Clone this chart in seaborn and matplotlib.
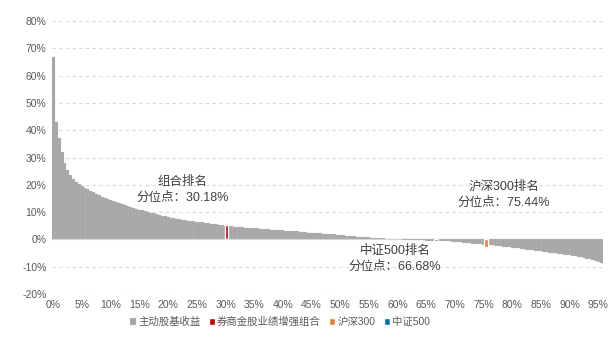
import numpy as np
import pandas as pd
import matplotlib
matplotlib.use('Agg')
import matplotlib.pyplot as plt
import seaborn as sns

# ---- data ----
STEP = 0.5
pct = np.arange(0, 96, STEP)          # percentile rank of fund (%)
ret = [
    67, 43, 37, 32, 28.0, 25.5, 23.5, 22.2, 21.2, 20.4,
    19.6, 19.0, 18.4, 17.9, 17.3, 16.8, 16.2, 15.7, 15.2, 14.8,
    14.4, 14.0, 13.6, 13.2, 12.9, 12.6, 12.2, 11.9, 11.5, 11.2,
    10.9, 10.6, 10.3, 10.0, 9.8, 9.5, 9.2, 9.0, 8.7, 8.5,
    8.2, 8.0, 7.8, 7.6, 7.4, 7.2, 7.0, 6.9, 6.7, 6.6,
    6.5, 6.4, 6.3, 6.1, 6.0, 5.8, 5.6, 5.5, 5.3, 5.2,
    5.0, 4.9, 4.8, 4.7, 4.6, 4.5, 4.4, 4.3, 4.2, 4.1,
    4.1, 4.0, 3.9, 3.8, 3.8, 3.7, 3.6, 3.5, 3.4, 3.3,
    3.3, 3.2, 3.1, 3.0, 2.9, 2.9, 2.8, 2.7, 2.6, 2.5,
    2.4, 2.4, 2.3, 2.2, 2.1, 2.0, 1.9, 1.8, 1.8, 1.7,
    1.6, 1.5, 1.4, 1.3, 1.2, 1.1, 1.0, 0.95, 0.9, 0.8,
    0.7, 0.6, 0.55, 0.5, 0.4, 0.35, 0.3, 0.2, 0.15, 0.1,
    0.05, 0.0, -0.05, -0.1, -0.15, -0.2, -0.2, -0.25, -0.3, -0.35,
    -0.4, -0.4, -0.45, -0.5, -0.55, -0.6, -0.65, -0.7, -0.75, -0.8,
    -0.9, -1.0, -1.1, -1.2, -1.3, -1.4, -1.5, -1.6, -1.7, -1.8,
    -1.9, -2.0, -2.1, -2.2, -2.3, -2.4, -2.5, -2.6, -2.7, -2.85,
    -3.0, -3.1, -3.25, -3.4, -3.55, -3.7, -3.85, -4.0, -4.1, -4.25,
    -4.4, -4.5, -4.65, -4.8, -4.95, -5.1, -5.25, -5.4, -5.55, -5.7,
    -5.85, -6.0, -6.2, -6.35, -6.55, -6.75, -7.0, -7.25, -7.55, -7.9,
    -8.3, -8.8,
]

mark_names = ['券商金股业绩增强组合', '沪深300', '中证500']
mark_pct = [30.18, 75.44, 66.68]
mark_ret = [5.4, -2.6, -0.6]
mark_colors = ['#C00000', '#ED7D31', '#0070C0']

ann_text = ['组合排名\n分位点：30.18%', '沪深300排名\n分位点：75.44%', '中证500排名\n分位点：66.68%']
ann_x = [22.5, 78.5, 59.5]
ann_y = [18.0, 16.5, -7.0]

yticks = list(range(-20, 81, 10))
xticks = list(range(0, 96, 5))

FAM = ['Liberation Sans', 'Noto Sans CJK SC', 'DejaVu Sans']

sns.set_style('white')
plt.rcParams['font.family'] = FAM
plt.rcParams['axes.unicode_minus'] = False

fig = plt.figure(figsize=(6.15, 3.51), dpi=100)
ax = fig.add_axes([0.0846, 0.1624, 0.8954, 0.7776])

df = pd.DataFrame({'pct': pct, 'ret': ret})
sns.barplot(data=df, x='pct', y='ret', native_scale=True, width=1.0,
            color='#A6A6A6', saturation=1, errorbar=None,
            edgecolor='#C4C4C4', linewidth=0.15, ax=ax, zorder=2,
            label='主动股基收益')
if ax.get_legend() is not None:
    ax.get_legend().remove()

for name, p, r, c in zip(mark_names, mark_pct, mark_ret, mark_colors):
    ax.bar(p, r, width=0.6, color=c, zorder=4, label=name)

for t, x, y in zip(ann_text, ann_x, ann_y):
    ax.text(x, y, t, ha='center', va='center', fontsize=9, color='#404040',
            linespacing=1.4, family=FAM, zorder=5)

ax.set_ylim(-20, 80)
ax.set_xlim(-0.25, 95.75)
ax.set_yticks(yticks)
ax.set_yticklabels([f'{v}%' for v in yticks], fontsize=7.5, color='#595959')
ax.set_xticks(xticks)
ax.set_xticklabels([f'{v}%' for v in xticks], fontsize=7.5, color='#595959')
ax.tick_params(axis='both', length=0, pad=4)
ax.set_xlabel('')
ax.set_ylabel('')
for s in ax.spines.values():
    s.set_visible(False)
ax.grid(axis='y', color='#D9D9D9', ls=(0, (3, 3)), lw=0.8, zorder=0)
ax.axhline(0, color='#D9D9D9', lw=0.8, zorder=1)

handles, labels = ax.get_legend_handles_labels()
order = ['主动股基收益'] + mark_names
hmap = dict(zip(labels, handles))
leg = fig.legend([hmap[k] for k in order], order, loc='center',
                 bbox_to_anchor=(0.455, 0.083), ncol=4, frameon=False,
                 fontsize=7.5, handlelength=0.6, handleheight=0.6,
                 handletextpad=0.2, columnspacing=0.8)
for t in leg.get_texts():
    t.set_color('#595959')

fig.savefig('out.png', dpi=100)
